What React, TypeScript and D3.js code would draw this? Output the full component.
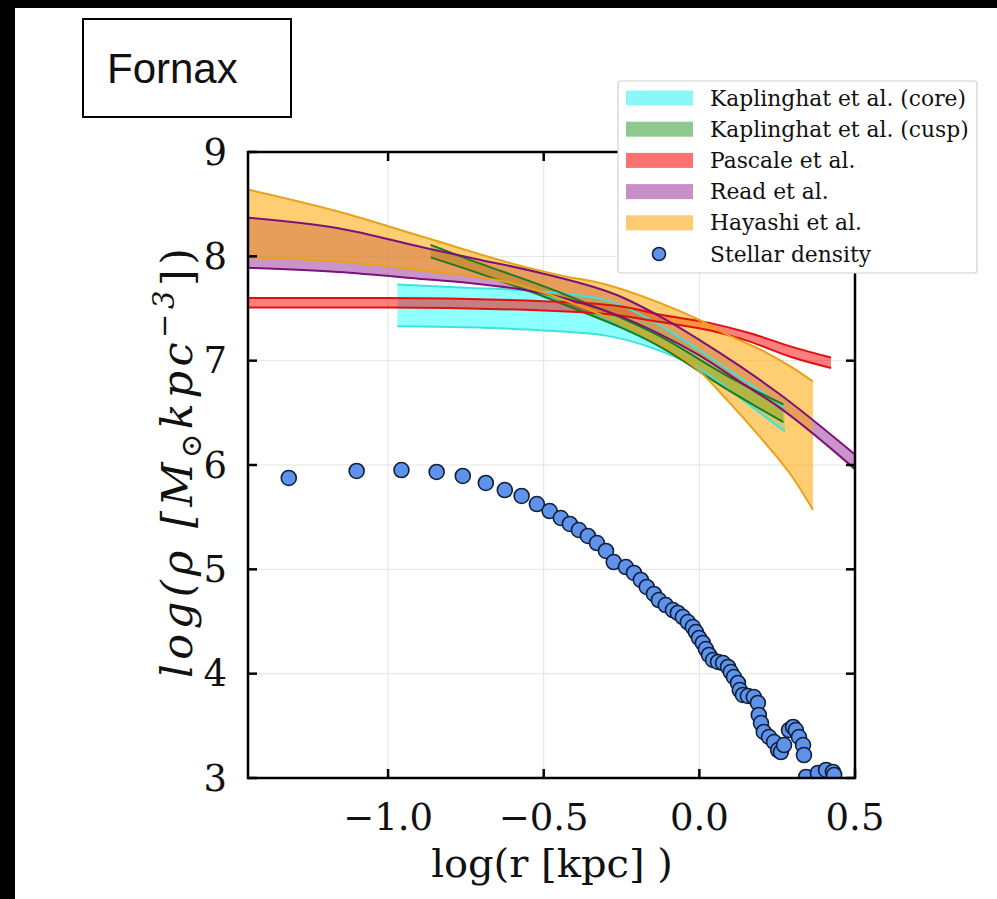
import React, { useEffect } from "react";
import * as d3 from "d3";

// ---------- data ----------
const X_TICKS = [-1.0, -0.5, 0.0, 0.5];
const X_TICK_LABELS = ["\u22121.0", "\u22120.5", "0.0", "0.5"];
const Y_TICKS = [3, 4, 5, 6, 7, 8, 9];
const Y_TICK_LABELS = ["3", "4", "5", "6", "7", "8", "9"];

const coreR = [-0.97, -0.75, -0.5, -0.3, -0.15, 0.0, 0.15, 0.275];
const coreLo = [7.33, 7.32, 7.29, 7.24, 7.12, 6.92, 6.6, 6.32];
const coreHi = [7.73, 7.7, 7.66, 7.58, 7.38, 7.1, 6.8, 6.55];

const cuspR = [-0.863, -0.75, -0.445, -0.124, 0.092, 0.27];
const cuspLo = [7.99, 7.88, 7.55, 7.13, 6.72, 6.41];
const cuspHi = [8.11, 7.98, 7.65, 7.23, 6.85, 6.58];

const pascaleR = [-1.45, -1.0, -0.5, -0.25, -0.124, 0.036, 0.155, 0.3, 0.423];
const pascaleLo = [7.51, 7.51, 7.48, 7.43, 7.37, 7.29, 7.19, 7.03, 6.93];
const pascaleHi = [7.6, 7.6, 7.57, 7.52, 7.44, 7.36, 7.27, 7.13, 7.03];

const readR = [-1.45, -1.16, -0.88, -0.725, -0.51, -0.25, -0.124, 0.0, 0.134, 0.253, 0.5];
const readLo = [7.89, 7.85, 7.78, 7.74, 7.65, 7.42, 7.25, 7.05, 6.79, 6.56, 5.96];
const readHi = [8.37, 8.27, 8.08, 7.98, 7.84, 7.61, 7.42, 7.2, 6.94, 6.69, 6.1];

const hayR = [-1.45, -1.16, -0.88, -0.6, -0.45, -0.3, -0.15, 0.0, 0.09, 0.2, 0.3, 0.365];
const hayLo = [7.99, 7.95, 7.86, 7.74, 7.6, 7.42, 7.2, 6.9, 6.62, 6.25, 5.88, 5.57];
const hayHi = [8.64, 8.43, 8.18, 7.93, 7.82, 7.73, 7.58, 7.39, 7.25, 7.1, 6.93, 6.8];

const stellarR = [
  -1.319, -1.101, -0.957, -0.844, -0.76, -0.686, -0.625, -0.571, -0.522, -0.481,
  -0.445, -0.416, -0.387, -0.358, -0.329, -0.3, -0.275, -0.236, -0.21, -0.188,
  -0.169, -0.146, -0.13, -0.108, -0.085, -0.069, -0.053, -0.037, -0.021, -0.011,
  -0.001, 0.011, 0.021, 0.031, 0.044, 0.06, 0.076, 0.092, 0.101, 0.111,
  0.124, 0.13, 0.14, 0.156, 0.175, 0.188, 0.191, 0.198, 0.207, 0.224,
  0.24, 0.253, 0.262, 0.272, 0.288, 0.301, 0.31, 0.32, 0.333, 0.336,
  0.343, 0.381, 0.407, 0.429, 0.433,
];
const stellarRho = [
  5.876, 5.943, 5.952, 5.933, 5.895, 5.828, 5.76, 5.703, 5.626, 5.559,
  5.492, 5.435, 5.377, 5.32, 5.252, 5.176, 5.07, 5.022, 4.965, 4.898,
  4.831, 4.764, 4.706, 4.658, 4.61, 4.582, 4.543, 4.495, 4.447, 4.399,
  4.342, 4.294, 4.236, 4.179, 4.131, 4.112, 4.102, 4.064, 4.016, 3.968,
  3.911, 3.843, 3.796, 3.786, 3.776, 3.719, 3.604, 3.527, 3.441, 3.393,
  3.345, 3.268, 3.249, 3.316, 3.46, 3.489, 3.46, 3.393, 3.316, 3.22,
  3.01, 3.048, 3.077, 3.058, 3.029,
];

const LEGEND_LABELS = [
  "Kaplinghat et al. (core)",
  "Kaplinghat et al. (cusp)",
  "Pascale et al.",
  "Read et al.",
  "Hayashi et al.",
  "Stellar density",
];

// ---------- layout ----------
const W = 997;
const H = 899;
const PL = 248;
const PR = 855;
const PT = 152;
const PB = 778;

const x = d3.scaleLinear().domain([-1.45, 0.5]).range([PL, PR]);
const y = d3.scaleLinear().domain([3, 9]).range([PB, PT]);

type Band = {
  r: number[];
  lo: number[];
  hi: number[];
  fill: string;
  fillOpacity: number;
  stroke: string;
  swatch: string;
};

const bands: Band[] = [
  { r: coreR, lo: coreLo, hi: coreHi, fill: "#00ffff", fillOpacity: 0.45, stroke: "#3fe3dc", swatch: "#8cf7f7" },
  { r: cuspR, lo: cuspLo, hi: cuspHi, fill: "#008000", fillOpacity: 0.42, stroke: "#1f7a1f", swatch: "#8fc98f" },
  { r: pascaleR, lo: pascaleLo, hi: pascaleHi, fill: "#ff0000", fillOpacity: 0.5, stroke: "#e01010", swatch: "#fb7272" },
  { r: readR, lo: readLo, hi: readHi, fill: "#800080", fillOpacity: 0.42, stroke: "#7a127a", swatch: "#c690c6" },
  { r: hayR, lo: hayLo, hi: hayHi, fill: "#ffa500", fillOpacity: 0.55, stroke: "#e8a21a", swatch: "#fdcb72" },
];

type P = { r: number; lo: number; hi: number };

function bandPaths(b: Band) {
  const pts: P[] = b.r.map((r, i) => ({ r, lo: b.lo[i], hi: b.hi[i] }));
  const area = d3
    .area<P>()
    .x((d) => x(d.r))
    .y0((d) => y(d.lo))
    .y1((d) => y(d.hi))
    .curve(d3.curveMonotoneX);
  const lineLo = d3
    .line<P>()
    .x((d) => x(d.r))
    .y((d) => y(d.lo))
    .curve(d3.curveMonotoneX);
  const lineHi = d3
    .line<P>()
    .x((d) => x(d.r))
    .y((d) => y(d.hi))
    .curve(d3.curveMonotoneX);
  return { area: area(pts) || "", lo: lineLo(pts) || "", hi: lineHi(pts) || "" };
}

export default function App() {
  useEffect(() => {
    document.documentElement.style.overflow = "hidden";
    document.body.style.margin = "0";
    document.body.style.overflow = "hidden";
    document.body.style.background = "#fff";
  }, []);

  const serif = "'DejaVu Serif', serif";
  const tickLen = 9;
  const legX = 618;
  const legY = 81;
  const legW = 359;
  const legH = 192;
  const rowY0 = 98;
  const rowDY = 31.2;

  return (
    <div style={{ position: "fixed", left: 0, top: 0, width: W, height: H, background: "#fff", overflow: "hidden" }}>
      <svg width={W} height={H} viewBox={`0 0 ${W} ${H}`} style={{ display: "block" }}>
        <defs>
          <clipPath id="plotClip">
            <rect x={PL} y={PT} width={PR - PL} height={PB - PT} />
          </clipPath>
        </defs>
        <rect x={0} y={0} width={W} height={H} fill="#fff" />
        {/* black borders of the screenshot */}
        <rect x={0} y={0} width={15} height={H} fill="#000" />
        <rect x={0} y={0} width={W} height={8} fill="#000" />

        {/* grid */}
        <g stroke="#e4e4e4" strokeWidth={1}>
          {X_TICKS.map((t) => (
            <line key={"gx" + t} x1={x(t)} x2={x(t)} y1={PT} y2={PB} />
          ))}
          {Y_TICKS.map((t) => (
            <line key={"gy" + t} x1={PL} x2={PR} y1={y(t)} y2={y(t)} />
          ))}
        </g>

        {/* bands */}
        <g clipPath="url(#plotClip)">
          {bands.map((b, i) => {
            const p = bandPaths(b);
            return <path key={"f" + i} d={p.area} fill={b.fill} fillOpacity={b.fillOpacity} stroke="none" />;
          })}
          {bands.map((b, i) => {
            const p = bandPaths(b);
            return (
              <g key={"l" + i} fill="none" stroke={b.stroke} strokeWidth={2}>
                <path d={p.lo} />
                <path d={p.hi} />
              </g>
            );
          })}
          {/* stellar density */}
          {stellarR.map((r, i) => (
            <circle
              key={"s" + i}
              cx={x(r)}
              cy={y(stellarRho[i])}
              r={7.5}
              fill="#5f92ea"
              stroke="#10203a"
              strokeWidth={1.6}
            />
          ))}
        </g>

        {/* frame */}
        <rect x={PL} y={PT} width={PR - PL} height={PB - PT} fill="none" stroke="#000" strokeWidth={2.5} />
        <g stroke="#000" strokeWidth={2.5}>
          {X_TICKS.map((t) => (
            <g key={"tx" + t}>
              <line x1={x(t)} x2={x(t)} y1={PB} y2={PB - tickLen} />
              <line x1={x(t)} x2={x(t)} y1={PT} y2={PT + tickLen} />
            </g>
          ))}
          {Y_TICKS.map((t) => (
            <g key={"ty" + t}>
              <line x1={PL} x2={PL + tickLen} y1={y(t)} y2={y(t)} />
              <line x1={PR} x2={PR - tickLen} y1={y(t)} y2={y(t)} />
            </g>
          ))}
        </g>

        {/* tick labels */}
        <g fontFamily={serif} fontSize={37} fill="#111">
          {X_TICKS.map((t, i) => (
            <text key={"xl" + t} x={x(t)} y={830} textAnchor="middle">
              {X_TICK_LABELS[i]}
            </text>
          ))}
          {Y_TICKS.map((t, i) => (
            <text key={"yl" + t} x={227} y={y(t)} textAnchor="end" dominantBaseline="central">
              {Y_TICK_LABELS[i]}
            </text>
          ))}
        </g>

        {/* axis labels */}
        <text x={552} y={877} textAnchor="middle" fontFamily={serif} fontSize={40} fill="#111">
          log(r [kpc] )
        </text>
        <text
          transform={`translate(192, 463) rotate(-90)`}
          textAnchor="middle"
          fontFamily={serif}
          fontStyle="italic"
          fontSize={43}
          fill="#111"
          textLength={430}
          lengthAdjust="spacing"
        >
          <tspan>log(</tspan>
          <tspan>ρ [M</tspan>
          <tspan fontSize={29} dy={9}>⊙</tspan>
          <tspan dy={-9}>kpc</tspan>
          <tspan fontSize={29} dy={-18}>−3</tspan>
          <tspan dy={18} fontStyle="normal">])</tspan>
        </text>

        {/* Fornax box */}
        <rect x={83} y={19} width={208} height={98} fill="#fff" stroke="#000" strokeWidth={2} />
        <text x={107} y={83} fontFamily="'Liberation Sans', Arial, sans-serif" fontSize={42} fill="#111">
          Fornax
        </text>

        {/* legend */}
        <rect x={legX} y={legY} width={legW} height={legH} rx={3} fill="#fff" stroke="#d0d0d0" strokeWidth={1.2} />
        {LEGEND_LABELS.map((lab, i) => {
          const cy = rowY0 + i * rowDY;
          return (
            <g key={"lg" + i}>
              {i < bands.length ? (
                <rect x={626} y={cy - 7.5} width={67} height={15} fill={bands[i].swatch} />
              ) : (
                <circle cx={659} cy={cy} r={6.5} fill="#5f92ea" stroke="#10203a" strokeWidth={1.6} />
              )}
              <text x={710} y={cy} dominantBaseline="central" fontFamily={serif} fontSize={21.8} fill="#111">
                {lab}
              </text>
            </g>
          );
        })}
      </svg>
    </div>
  );
}
